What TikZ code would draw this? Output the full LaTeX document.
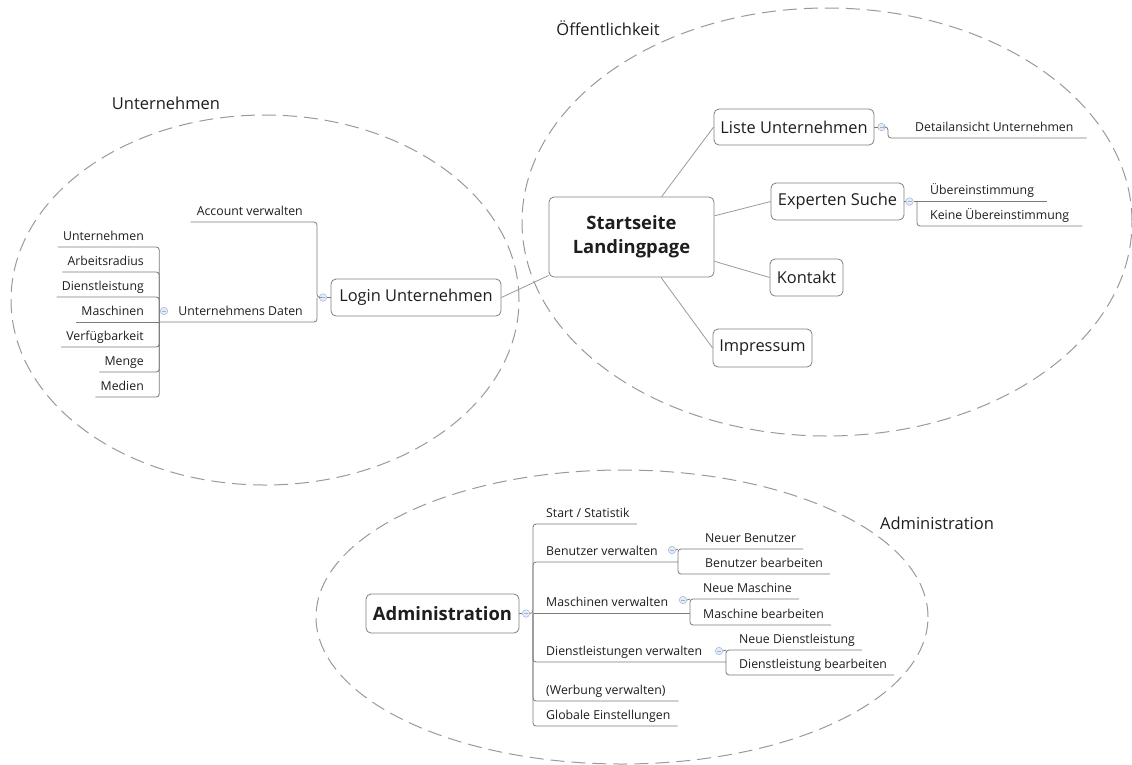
\documentclass[tikz,border=0pt]{standalone}
\usepackage{fontspec}
\setmainfont{Open Sans}
\usetikzlibrary{calc}
\definecolor{txt}{HTML}{1E1E1E}
\definecolor{boxline}{HTML}{808080}
\definecolor{connline}{HTML}{9A9A9A}
\definecolor{brkline}{HTML}{7A7A7A}
\definecolor{zoneline}{HTML}{9A9A9A}
\definecolor{togline}{HTML}{9DB5D3}
\definecolor{togfill}{HTML}{E3ECF7}
\begin{document}
\begin{tikzpicture}[x=1pt,y=-1pt,
  box/.style={draw=boxline, rounded corners=5pt, line width=0.8pt, fill=white, text=txt,
    font=\fontsize{16.4}{20}\selectfont, inner sep=0pt, align=center},
  mainbox/.style={box, font=\bfseries\fontsize{18.4}{24}\selectfont},
  leaf/.style={inner xsep=0pt, inner ysep=3.5pt, text height=9pt, text depth=3pt, text=txt,
    font=\fontsize{12.3}{14}\selectfont},
  lp/.style={execute at begin node={\hspace*{#1}}},
  rp/.style={execute at end node={\hspace*{#1}}},
  rleaf/.style={leaf, anchor=south west, lp=13pt, rp=7pt},
  lleaf/.style={leaf, anchor=south east, lp=5pt, rp=14pt},
  conn/.style={draw=connline, line width=0.8pt},
  brk/.style={draw=brkline, line width=0.8pt, rounded corners=3pt},
  tog/.style={circle, draw=togline, fill=togfill, minimum size=7.5pt, inner sep=0pt, line width=0.5pt,
    path picture={\draw[togline, line width=0.6pt] ([xshift=-2pt]path picture bounding box.center) -- ([xshift=2pt]path picture bounding box.center);}},
  zone/.style={draw=zoneline, line width=1pt, dash pattern=on 14pt off 7pt},
  zlabel/.style={text=txt, font=\fontsize{16.5}{20}\selectfont, inner sep=0pt}
]
\fill[white] (0,0) rectangle (1132,764);
\useasboundingbox (0,0) rectangle (1132,764);

% zones
\draw[zone] (265,300) ellipse [x radius=254pt, y radius=185pt];
\draw[zone] (827,222) ellipse [x radius=305pt, y radius=214pt];
\draw[zone] (622,617) ellipse [x radius=306pt, y radius=147pt];

\node[zlabel] (lblU) at (166,103) {Unternehmen};
\node[zlabel] (lblO) at (608,28) {Öffentlichkeit};
\node[zlabel] (lblA) at (937,523) {Administration};

% boxes
\node[mainbox, minimum width=165pt, minimum height=80pt] (start) at (631.5,237) {Startseite\\Landingpage};
\node[box, minimum width=160pt, minimum height=36pt] (liste) at (794,127) {Liste Unternehmen};
\node[box, minimum width=133pt, minimum height=37pt] (exp) at (837.5,201.5) {Experten Suche};
\node[box, minimum width=73pt, minimum height=37pt] (kontakt) at (806.5,277.5) {Kontakt};
\node[box, minimum width=99pt, minimum height=38pt] (impr) at (762.5,348) {Impressum};
\node[box, minimum width=170pt, minimum height=37pt] (login) at (416,297.5) {Login Unternehmen};
\node[mainbox, minimum width=153pt, minimum height=39pt] (admin) at (442.5,613.5) {Administration};

% toggles
\node[tog] (tLogin) at (323,297.5) {};
\node[tog] (tDaten) at (164,311) {};
\node[tog] (tListe) at (881.5,127) {};
\node[tog] (tExp) at (909.5,201.5) {};
\node[tog] (tAdmin) at (526,613.5) {};
\node[tog] (tBen) at (672,550) {};
\node[tog] (tMas) at (683,600) {};
\node[tog] (tDie) at (719,651) {};

% junctions
\coordinate (bLogin) at (317,297.5);
\coordinate (bListe) at (888,127);
\coordinate (bAdmin) at (533,613.5);
\coordinate (bBen) at (678,562);
\coordinate (bMas) at (690,613.5);
\coordinate (bDie) at (726,662);

% left cluster leaves
\node[leaf, anchor=south east, lp=6pt, rp=14pt] (acc) at (317,222) {Account verwalten};
\node[leaf, anchor=south east, lp=19pt, rp=14pt] (daten) at (317,322) {Unternehmens Daten};
\node[lleaf] (l1) at (158,247) {Unternehmen};
\node[lleaf] (l2) at (158,272) {Arbeitsradius};
\node[lleaf] (l3) at (158,297) {Dienstleistung};
\node[lleaf] (l4) at (158,322) {Maschinen};
\node[lleaf] (l5) at (158,347) {Verfügbarkeit};
\node[lleaf] (l6) at (158,372) {Menge};
\node[lleaf] (l7) at (158,397) {Medien};

% right cluster leaves
\node[rleaf, lp=14pt, rp=6pt] (detail) at (888,138) {Detailansicht Unternehmen};
\node[rleaf, rp=6pt] (ueb) at (917,201.5) {Übereinstimmung};
\node[rleaf, rp=6pt] (keine) at (917,226) {Keine Übereinstimmung};

% admin leaves
\node[rleaf] (a1) at (533,524) {Start / Statistik};
\node[rleaf] (a2) at (533,562) {Benutzer verwalten};
\node[rleaf] (a3) at (533,613.5) {Maschinen verwalten};
\node[rleaf] (a4) at (533,662) {Dienstleistungen verwalten};
\node[rleaf, rp=6pt] (a5) at (533,701) {(Werbung verwalten)};
\node[rleaf] (a6) at (533,726) {Globale Einstellungen};
\node[rleaf, lp=14pt] (b1) at (678,549) {Neuer Benutzer};
\node[rleaf, lp=14pt] (b2) at (678,574) {Benutzer bearbeiten};
\node[rleaf] (m1) at (690,599) {Neue Maschine};
\node[rleaf] (m2) at (690,625) {Maschine bearbeiten};
\node[rleaf] (d1) at (726,650) {Neue Dienstleistung};
\node[rleaf] (d2) at (726,675) {Dienstleistung bearbeiten};

% connectors from Startseite
\draw[conn] (start) -- (liste.west);
\draw[conn] (start) -- (exp.west);
\draw[conn] (start) -- (kontakt.west);
\draw[conn] (start) -- (impr.west);
\draw[conn] (start) -- (login.east);

% right brackets
\draw[brk] (liste.east) -- (tListe.west);
\draw[brk] (tListe.east) -- (bListe) |- (detail.south east);
\draw[brk] (exp.east) -- (tExp.west);
\draw[brk] (tExp.east) -- (ueb.south east);
\draw[brk] (ueb.south west) |- (keine.south east);

% left brackets
\draw[brk] (login.west) -- (tLogin.east);
\draw[brk] (tLogin.west) -- (bLogin) |- (acc.south west);
\draw[brk] (bLogin) |- (daten.south west);
\foreach \n in {l1,l2,l3,l5,l6,l7} \draw[brk] (daten.south west) |- (\n.south west);
\draw[brk] (daten.south west) -- (l4.south west);

% admin brackets
\draw[brk] (admin.east) -- (tAdmin.west);
\draw[brk] (tAdmin.east) -- (bAdmin) |- (a1.south east);
\draw[brk] (bAdmin) |- (bBen);
\draw[brk] (bAdmin) -- (bMas);
\draw[brk] (bAdmin) |- (bDie);
\draw[brk] (bAdmin) |- (a5.south east);
\draw[brk] (bAdmin) |- (a6.south east);
\draw[brk] (tBen.east) -- (b1.south west);
\draw[brk] (bBen) |- (b1.south east);
\draw[brk] (bBen) |- (b2.south east);
\draw[brk] (tMas.east) -- (m1.south west);
\draw[brk] (bMas) |- (m1.south east);
\draw[brk] (bMas) |- (m2.south east);
\draw[brk] (tDie.east) -- (d1.south west);
\draw[brk] (bDie) |- (d1.south east);
\draw[brk] (bDie) |- (d2.south east);
\end{tikzpicture}
\end{document}
